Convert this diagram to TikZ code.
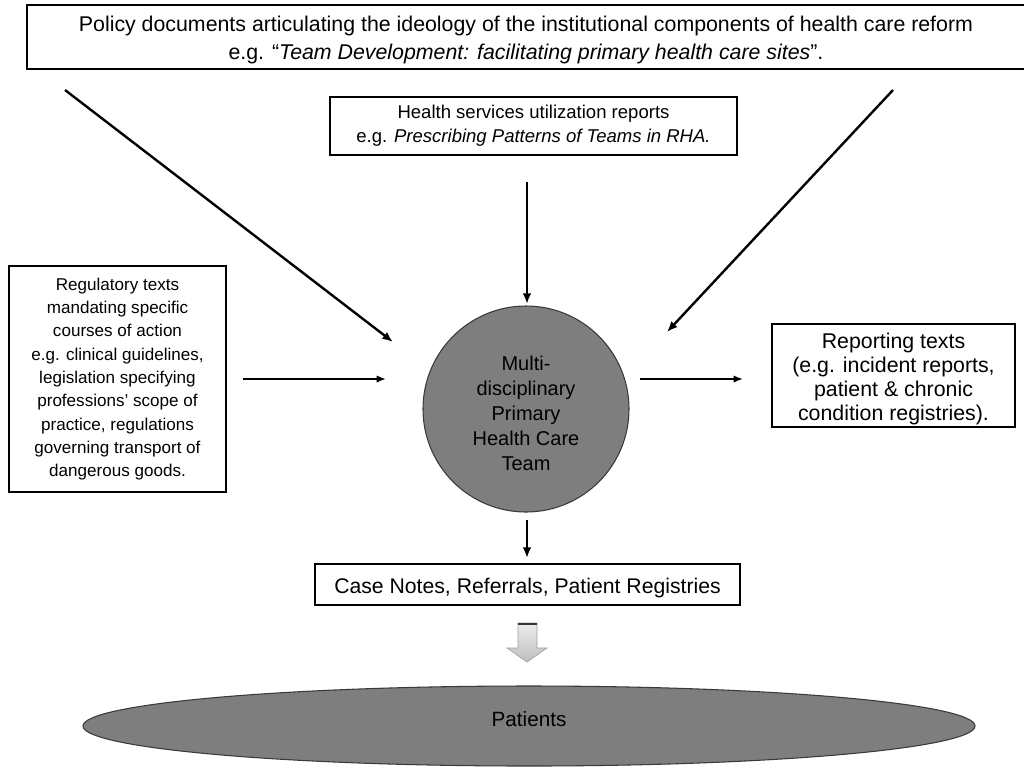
\documentclass[tikz,border=0pt]{standalone}
\usepackage{fontspec}
\setmainfont{Liberation Sans}
\usetikzlibrary{arrows.meta,shapes.geometric}
\definecolor{discgray}{HTML}{7E7E7E}
\definecolor{discedge}{HTML}{3A3A3A}
\begin{document}
\begin{tikzpicture}[x=0.75pt,y=-0.75pt,
  box/.style={draw=black, line width=0.9pt, fill=white, inner sep=0pt, align=center},
  lbl/.style={align=center, inner sep=0pt},
  arr/.style={line width=1.8pt, -{Latex[length=8pt,width=6.5pt]}},
  thinarr/.style={line width=1.3pt, -{Latex[length=7pt,width=5.5pt]}},
]
\useasboundingbox (0,0) rectangle (1024,769);

% boxes
\node[box, minimum width=1004*0.75pt, minimum height=64*0.75pt] (policy) at (529,37) {};
\node[lbl, font=\fontsize{16pt}{20.5pt}\selectfont] (policylabel) at (526,40)
  {Policy documents articulating the ideology of the institutional components of health care reform\\
   e.g. “\textit{Team Development: facilitating primary health care sites}”.};

\node[box, minimum width=407*0.75pt, minimum height=58*0.75pt,
  font=\fontsize{13.9pt}{18pt}\selectfont] (util) at (533.5,126)
  {Health services utilization reports\\ e.g. \textit{Prescribing Patterns of Teams in RHA.}};

\node[box, minimum width=217*0.75pt, minimum height=226*0.75pt,
  font=\fontsize{12.8pt}{17.5pt}\selectfont] (reg) at (117.5,379)
  {Regulatory texts\\ mandating specific\\ courses of action\\ e.g. clinical guidelines,\\
   legislation specifying\\ professions’ scope of\\ practice, regulations\\
   governing transport of\\ dangerous goods.};

\node[circle, draw=discedge, line width=0.8pt, fill=discgray, minimum size=206*0.75pt, inner sep=0pt]
  (team) at (526,409) {};
\node[lbl, font=\fontsize{15pt}{18.75pt}\selectfont] (teamlabel) at (526,413)
  {Multi-\\ disciplinary\\ Primary\\ Health Care\\ Team};

\node[box, minimum width=243*0.75pt, minimum height=103*0.75pt] (report) at (893.5,375.5) {};
\node[lbl, font=\fontsize{16pt}{18pt}\selectfont] (reportlabel) at (893.5,378.5)
  {Reporting texts\\ (e.g. incident reports,\\ patient \& chronic\\ condition registries).};

\node[box, minimum width=425*0.75pt, minimum height=41*0.75pt] (cases) at (527.5,584.5) {};
\node[lbl, font=\fontsize{15.9pt}{18pt}\selectfont] (caseslabel) at (527.5,588)
  {Case Notes, Referrals, Patient Registries};

\node[ellipse, draw=discedge, line width=0.8pt, fill=discgray, minimum width=892*0.75pt,
  minimum height=80*0.75pt, inner sep=0pt] (patients) at (529,726) {};
\node[lbl, font=\fontsize{15.5pt}{17pt}\selectfont] (patlabel) at (529,719) {Patients};

% arrow endpoints
\coordinate (a1s) at (65,90);   \coordinate (a1e) at (393,342);
\coordinate (a2s) at (527,182); \coordinate (a2e) at (527,304);
\coordinate (a3s) at (893,90);  \coordinate (a3e) at (667,332);
\coordinate (a4s) at (243,379); \coordinate (a4e) at (386,379);
\coordinate (a5s) at (640,379); \coordinate (a5e) at (743,379);
\coordinate (a6s) at (527,520); \coordinate (a6e) at (527,558);

\draw[arr] (a1s) -- (a1e);
\draw[arr] (a2s) -- (a2e);
\draw[arr] (a3s) -- (a3e);
\draw[thinarr] (a4s) -- (a4e);
\draw[thinarr] (a5s) -- (a5e);
\draw[arr] (a6s) -- (a6e);

% hollow block arrow from case notes to patients
\shade[top color=gray!15, bottom color=gray!50, draw=gray!75, line width=0.5pt]
  (518,623) -- (537,623) -- (537,648) -- (547,648) -- (527,662) -- (507,648) -- (518,648) -- cycle;
\draw[line width=1.5pt, black!80] (518,624) -- (537,624);
\end{tikzpicture}
\end{document}
